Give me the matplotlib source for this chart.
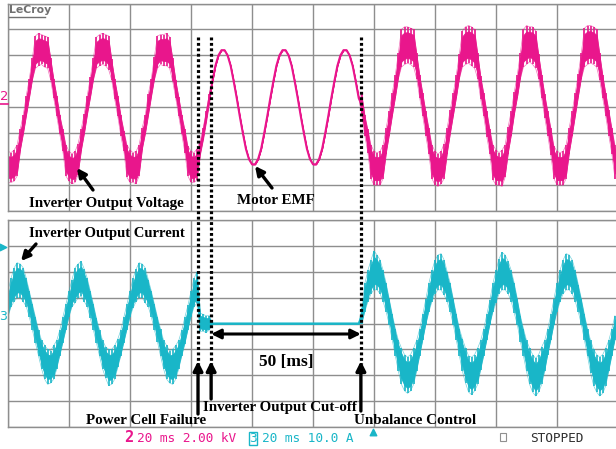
import numpy as np
import matplotlib
matplotlib.use("Agg")
import matplotlib.pyplot as plt
from matplotlib.transforms import blended_transform_factory
from matplotlib.patches import Rectangle

# ---------------- data (read from the scope screen) ----------------
# time base: 20 ms/div, 10 divisions, one sample per ms
t_ms = np.arange(200)

# channel 2 : inverter output voltage (kV), upper / lower envelope of the PWM band
volt_pre_upper = [-3.4,
    -3.5, -3.3, -2.9, -1.7, -0.6, 0.9, 2.2, 3.8, 5.5, 5.7, 5.6, 5.5, 5.4, 3.8, 2.2, 0.9, -0.6, -1.7, -2.9, -3.4,
    -3.6, -3.4, -2.8, -1.7, -0.5, 0.9, 2.3, 3.8, 5.4, 5.6, 5.7, 5.6, 5.5, 3.7, 2.2, 0.9, -0.6, -1.8, -2.9, -3.3,
    -3.5, -3.4, -2.9, -1.6, -0.6, 1.0, 2.2, 3.9, 5.5, 5.6, 5.6, 5.7, 5.4, 3.8, 2.1, 0.8, -0.6, -1.7, -3.0, -3.4,
    -3.5]
volt_pre_lower = [-5.8,
    -5.8, -5.7, -5.3, -3.4, -2.1, -0.7, 0.7, 2.1, 3.0, 3.2, 3.3, 3.1, 3.0, 2.1, 0.7, -0.7, -2.1, -3.4, -5.3, -5.7,
    -5.9, -5.8, -5.2, -3.4, -2.1, -0.6, 0.7, 2.1, 3.0, 3.2, 3.3, 3.2, 2.9, 2.1, 0.6, -0.7, -2.2, -3.4, -5.4, -5.8,
    -5.8, -5.9, -5.3, -3.3, -2.1, -0.7, 0.8, 2.1, 3.0, 3.3, 3.2, 3.2, 3.0, 2.0, 0.7, -0.7, -2.1, -3.5, -5.3, -5.8,
    -5.8]
volt_fail_upper = [-3.2, -2.6, -1.6, -0.3, 1.0]
volt_fail_lower = [-5.6, -3.7, -2.5, -1.1, 0.4]
motor_emf_kv = [2.0, 3.2, 4.0, 4.4, 4.4, 4.0, 3.2, 2.0, 0.7, -0.7,
                -2.0, -3.2, -4.0, -4.4, -4.4, -4.0, -3.2, -2.0, -0.7, 0.7,
                2.0, 3.2, 4.0, 4.4, 4.4, 4.0, 3.2, 2.0, 0.7, -0.7,
                -2.0, -3.2, -4.0, -4.4, -4.4, -4.0, -3.2, -2.0, -0.7, 0.7,
                2.0, 3.2, 4.0, 4.4, 4.4, 4.0, 3.2, 2.0, 0.7]
volt_post_upper = [1.0, -0.6, -1.7, -2.9, -3.4,
    -3.5, -3.4, -2.9, -1.6, -0.3, 1.1, 2.5, 4.2, 6.0, 6.2, 6.2, 6.1, 6.0, 4.2, 2.5, 1.1, -0.3, -1.6, -2.9, -3.4,
    -3.6, -3.4, -2.8, -1.6, -0.2, 1.1, 2.5, 4.1, 5.9, 6.2, 6.3, 6.2, 6.0, 4.2, 2.4, 1.1, -0.3, -1.7, -2.9, -3.3,
    -3.5, -3.3, -2.9, -1.5, -0.3, 1.2, 2.5, 4.2, 6.0, 6.3, 6.2, 6.2, 5.9, 4.1, 2.5, 1.0, -0.3, -1.6, -3.0, -3.4,
    -3.5, -3.4, -2.9, -1.6, -0.3, 1.1, 2.6, 4.2, 6.1, 6.3, 6.3, 6.2, 6.0, 4.2, 2.5, 1.1, -0.2, -1.6, -2.9]
volt_post_lower = [-0.6, -2.2, -3.5, -5.5, -6.0,
    -6.0, -6.0, -5.5, -3.6, -2.2, -0.7, 0.7, 2.2, 3.1, 3.3, 3.4, 3.3, 3.1, 2.2, 0.7, -0.7, -2.2, -3.6, -5.5, -6.0,
    -6.1, -5.9, -5.5, -3.6, -2.1, -0.7, 0.7, 2.2, 3.1, 3.3, 3.4, 3.2, 3.0, 2.2, 0.6, -0.7, -2.3, -3.6, -5.6, -6.0,
    -6.0, -6.1, -5.4, -3.6, -2.2, -0.6, 0.7, 2.2, 3.1, 3.3, 3.5, 3.3, 3.0, 2.2, 0.7, -0.8, -2.2, -3.7, -5.5, -6.0,
    -6.0, -6.0, -5.5, -3.6, -2.2, -0.7, 0.8, 2.2, 3.1, 3.3, 3.4, 3.3, 3.1, 2.1, 0.7, -0.7, -2.2, -3.6, -5.5]

# channel 3 : inverter output current (A), upper / lower envelope
curr_pre_upper = [
    12.5, 17.5, 21.5, 23.5, 23.0, 21.5, 17.5, 12.5, 7.5, 2.5, -2.5, -6.5, -8.5, -10.0, -10.5, -8.5, -6.5, -2.5, 2.5, 7.5,
    12.5, 17.0, 21.5, 23.0, 24.0, 21.0, 17.5, 12.5, 7.5, 2.0, -2.5, -6.5, -9.0, -10.0, -10.0, -8.5, -6.0, -2.5, 2.5, 7.5,
    12.5, 17.5, 21.0, 23.5, 23.0, 21.5, 17.0, 12.5, 7.5, 2.5, -2.0, -6.5, -8.5, -10.5, -10.0, -8.5, -6.5, -2.5, 2.5, 7.0,
    12.5, 17.5, 20.0]
curr_pre_lower = [
    2.5, 6.5, 8.5, 10.0, 10.0, 8.5, 6.5, 2.5, -2.5, -7.5, -12.5, -17.5, -21.5, -23.5, -23.0, -21.5, -17.5, -12.5, -7.5, -2.5,
    2.5, 6.5, 8.0, 10.0, 10.5, 8.5, 6.5, 2.0, -2.5, -7.5, -12.5, -17.5, -21.0, -24.0, -23.5, -21.5, -17.0, -12.5, -7.5, -2.5,
    2.5, 6.0, 8.5, 10.0, 10.0, 8.0, 6.5, 2.5, -2.5, -7.0, -12.5, -17.5, -21.5, -23.0, -23.5, -21.5, -17.5, -12.5, -8.0, -2.5,
    2.5, 6.5, 8.0]
curr_fail_upper = [4.0, 3.5, 3.0, 3.0]
curr_fail_lower = [-3.0, -3.0, -3.5, -2.5]
curr_cutoff_a = [0.0] * 49
curr_post_upper = [6.0, 15.5, 20.5, 24.5, 28.0,
    26.5, 24.5, 20.5, 15.5, 9.5, 3.5, -2.0, -6.5, -9.5, -12.0, -13.0, -12.0, -9.5, -6.5, -2.0, 3.5, 9.5, 15.5, 20.5, 24.5, 26.5,
    27.0, 24.5, 20.0, 15.5, 9.5, 3.5, -2.0, -6.0, -9.5, -12.5, -13.0, -12.0, -9.5, -6.5, -2.0, 3.5, 9.0, 15.5, 20.5, 25.0, 27.5,
    26.5, 24.0, 20.5, 15.5, 9.5, 3.0, -2.0, -6.5, -9.5, -12.0, -13.5, -12.0, -9.0, -6.5, -2.0, 3.5, 9.5, 15.5, 20.5, 24.5, 27.0,
    26.5, 24.5, 20.5, 15.0, 9.5, 3.5, -2.0, -6.5, -10.0, -12.0, -13.0, -12.0, -9.5, -6.5, -2.0, 3.0]
curr_post_lower = [0.0, 4.5, 8.5, 11.5, 13.0,
    13.0, 11.5, 8.5, 4.5, -0.5, -6.5, -12.5, -18.5, -23.5, -26.0, -27.0, -26.0, -23.5, -18.5, -12.5, -6.5, -0.5, 4.5, 8.5, 11.5, 13.0,
    13.0, 11.0, 8.5, 4.5, -0.5, -6.5, -12.5, -18.5, -23.0, -26.5, -27.5, -26.0, -23.5, -18.0, -12.5, -6.5, -0.5, 4.5, 8.0, 11.5, 13.0,
    13.0, 11.5, 8.5, 4.0, -0.5, -7.0, -12.5, -18.5, -23.5, -26.5, -28.0, -26.5, -23.5, -18.5, -12.0, -6.5, -0.5, 4.5, 8.5, 11.5, 13.0,
    13.0, 11.5, 8.5, 4.5, -0.5, -6.5, -12.5, -19.0, -24.0, -26.5, -28.0, -27.0, -24.0, -18.5, -12.5, -6.5]

# event instants (ms) and annotation texts
event_ms = [62.3, 66.6, 115.7]
event_labels = ["Power Cell Failure", "Inverter Output Cut-off", "Unbalance Control"]
gap_label = "50 [ms]"

# scope settings
ms_per_div = 20
kv_per_div = 2.0
amp_per_div = 10.0
n_xdiv, n_ydiv = 10, 8

# ---------------- assemble ----------------
volt_upper = np.array(volt_pre_upper + volt_fail_upper + motor_emf_kv + volt_post_upper)
volt_lower = np.array(volt_pre_lower + volt_fail_lower + motor_emf_kv + volt_post_lower)
curr_upper = np.array(curr_pre_upper + curr_fail_upper + curr_cutoff_a + curr_post_upper)
curr_lower = np.array(curr_pre_lower + curr_fail_lower + curr_cutoff_a + curr_post_lower)
assert len(volt_upper) == len(volt_lower) == len(curr_upper) == len(curr_lower) == len(t_ms)

MAG = '#E9168C'
CYA = '#19B6C8'
GRID = '#8E8E8E'

W, H = 616, 449
fig = plt.figure(figsize=(W / 100, H / 100), dpi=100)

def fa(x0, y0, x1, y1):
    return [x0 / W, 1 - y1 / H, (x1 - x0) / W, (y1 - y0) / H]

ax1 = fig.add_axes(fa(8, 3.5, 618, 211))
ax2 = fig.add_axes(fa(8, 220, 618, 427))

for ax, per in ((ax1, kv_per_div), (ax2, amp_per_div)):
    ax.set_xlim(0, n_xdiv * ms_per_div)
    ax.set_ylim(-n_ydiv / 2 * per, n_ydiv / 2 * per)
    ax.set_xticks(np.arange(0, n_xdiv * ms_per_div + 1, ms_per_div))
    ax.set_yticks(np.arange(-n_ydiv / 2 * per, n_ydiv / 2 * per + 0.01, per))
    ax.grid(True, color=GRID, lw=1.0)
    ax.tick_params(length=0, labelbottom=False, labelleft=False)
    for s in ax.spines.values():
        s.set_color(GRID)
        s.set_linewidth(1.0)
    ax.set_axisbelow(True)


def trace(ax, upper, lower, color):
    mid = (upper + lower) / 2
    half = (upper - lower) / 2
    # solid core of the switching band
    ax.fill_between(t_ms, mid - 0.7 * half, mid + 0.7 * half, color=color, lw=0.6)
    # switching spikes out to the envelope
    ax.vlines(t_ms, lower, upper, color=color, lw=1.2)
    ax.plot(t_ms, upper, color=color, lw=0.5, alpha=0.6)
    ax.plot(t_ms, lower, color=color, lw=0.5, alpha=0.6)
    ax.plot(t_ms, mid, color=color, lw=1.5)


trace(ax1, volt_upper, volt_lower, MAG)
trace(ax2, curr_upper, curr_lower, CYA)

# overlay in pixel coordinates for annotations
ov = fig.add_axes([0, 0, 1, 1], facecolor='none')
ov.set_xlim(0, W)
ov.set_ylim(H, 0)
ov.axis('off')
ov.set_zorder(5)
tr = blended_transform_factory(ax1.transData, ov.transData)

serif = dict(family='Liberation Serif', weight='bold', color='black')
LFS = 10.8

# dotted event lines and arrows
for tm in event_ms:
    ov.plot([tm, tm], [37, 364], transform=tr, color='black', lw=2.3,
            linestyle=(0, (0.9, 0.8)), solid_capstyle='butt', dash_capstyle='butt')
arrow_tails = [414, 399, 411]
for tm, ty in zip(event_ms, arrow_tails):
    ov.annotate('', xy=(tm, 361), xytext=(tm, ty), xycoords=tr, textcoords=tr,
                arrowprops=dict(arrowstyle='-|>', color='black', lw=2.4, mutation_scale=14,
                                shrinkA=0, shrinkB=0))
ov.annotate('', xy=(event_ms[1], 334), xytext=(event_ms[2], 334), xycoords=tr, textcoords=tr,
            arrowprops=dict(arrowstyle='<|-|>', color='black', lw=2.2, mutation_scale=14,
                            shrinkA=0, shrinkB=0))
ov.text(np.mean(event_ms[1:]), 362, gap_label, transform=tr,
        ha='center', va='center', fontsize=12.5, **serif)

ov.text(86, 420, event_labels[0], ha='left', va='center', fontsize=LFS, **serif)
ov.text(203, 408, event_labels[1], ha='left', va='center', fontsize=LFS, **serif)
ov.text(354, 420, event_labels[2], ha='left', va='center', fontsize=LFS, **serif)

ov.text(29, 203, "Inverter Output Voltage", ha='left', va='center', fontsize=LFS, **serif)
ov.text(237, 201, "Motor EMF", ha='left', va='center', fontsize=LFS, **serif)
ov.text(29, 233, "Inverter Output Current", ha='left', va='center', fontsize=10.5, **serif)

arr = dict(arrowstyle='-|>', color='black', lw=2.4, mutation_scale=13, shrinkA=0, shrinkB=0)
ov.annotate('', xy=(77, 168), xytext=(93, 190), arrowprops=arr)
ov.annotate('', xy=(255, 166), xytext=(272, 188), arrowprops=arr)
ov.annotate('', xy=(21, 261), xytext=(36, 244), arrowprops=arr)

# scope decorations
ov.text(9, 10, "LeCroy", ha='left', va='center', fontsize=7.8, color='#707070',
        family='DejaVu Sans', weight='bold')
ov.plot([9, 45], [17, 17], color='#707070', lw=1)
ov.text(4, 97, "2", ha='center', va='center', fontsize=9.5, color=MAG, family='DejaVu Sans')
ov.plot([0, 8], [104, 104], color=MAG, lw=1.2)
ov.text(3, 316, "3", ha='center', va='center', fontsize=9, color=CYA, family='DejaVu Sans')
ov.scatter([2.5], [247], marker='>', s=22, color=CYA, clip_on=False)
ov.scatter([373], [432], marker='^', s=22, color=CYA, clip_on=False)

mono = dict(family='DejaVu Sans Mono', va='center', ha='left')
SFS = 9.2
ov.text(124, 438, "2", fontsize=11, color=MAG, weight='bold', **mono)
ov.text(137, 438, "20 ms 2.00 kV", fontsize=SFS, color=MAG, **mono)
ov.add_patch(Rectangle((248.5, 431.5), 8, 13, fill=False, edgecolor=CYA, lw=1.0))
ov.text(249.5, 438, "3", fontsize=SFS, color=CYA, **mono)
ov.text(262, 438, "20 ms 10.0 A", fontsize=SFS, color=CYA, **mono)
ov.add_patch(Rectangle((500, 433), 6, 8, fill=False, edgecolor='#909090', lw=0.8))
ov.text(530, 438, "STOPPED", fontsize=SFS, color='#303030', **mono)

fig.savefig("out.png", dpi=100)
